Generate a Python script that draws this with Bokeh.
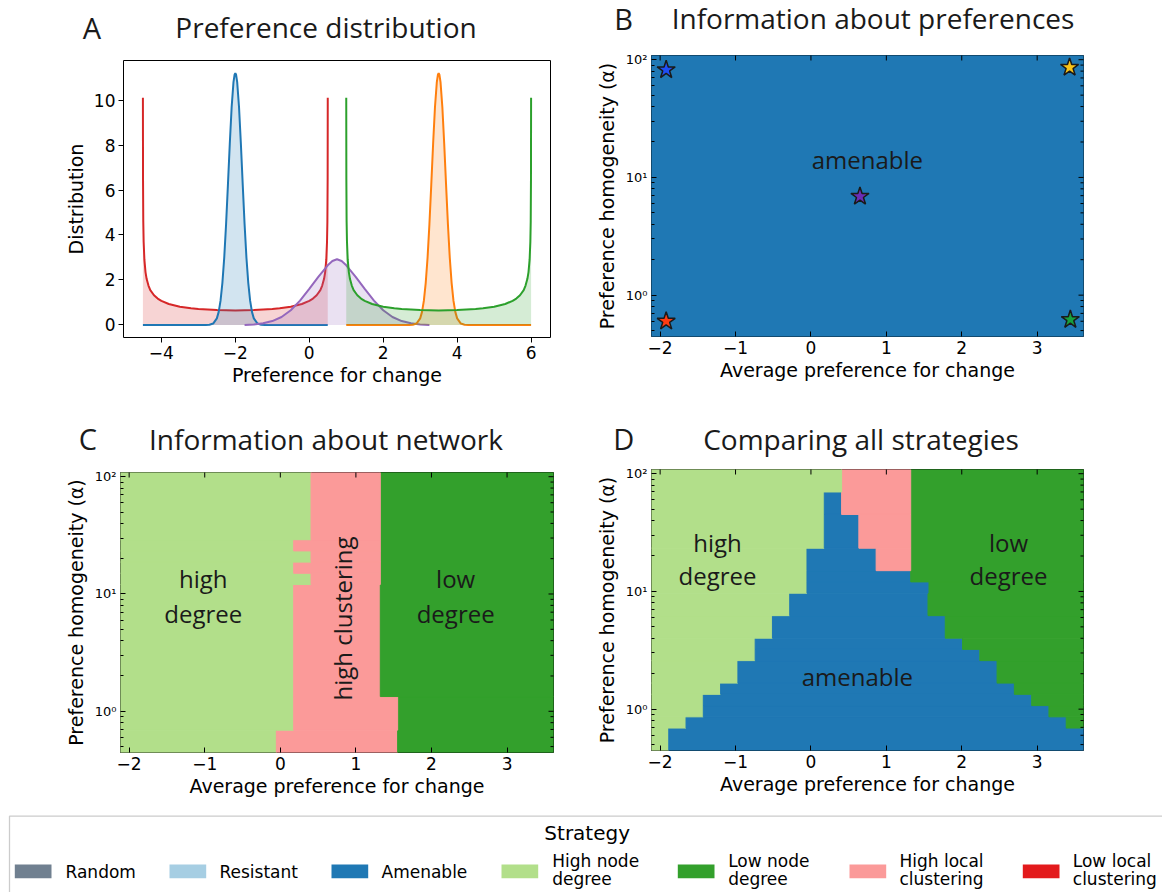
import numpy as np
from bokeh.plotting import figure
from bokeh.layouts import column, row
from bokeh.models import Range1d, FixedTicker, ColumnDataSource, CustomJSTickFormatter
from bokeh.core.properties import value
from bokeh.embed import file_html
from bokeh.resources import INLINE

# ---------------------------------------------------------------- data
# Panel A: preference distributions
red_x = [-4.5, -4.497, -4.49, -4.48, -4.46, -4.43, -4.4, -4.35, -4.3, -4.2, -4.1, -4.0,
         -3.8, -3.5, -3.2, -3.0, -2.5, -2.0, -1.5, -1.0, -0.8, -0.5, -0.2, 0.0, 0.1, 0.2,
         0.3, 0.35, 0.4, 0.43, 0.46, 0.48, 0.49, 0.497, 0.5]
red_y = [10.1, 6.5, 4.6, 3.7, 2.9, 2.35, 2.05, 1.75, 1.55, 1.32, 1.17, 1.07, 0.93, 0.81,
         0.74, 0.71, 0.66, 0.64, 0.66, 0.71, 0.74, 0.81, 0.93, 1.07, 1.17, 1.32, 1.55,
         1.75, 2.05, 2.35, 2.9, 3.7, 4.6, 6.5, 10.1]
blue_x = [-4.5, -2.8, -2.7, -2.6, -2.5, -2.45, -2.4, -2.35, -2.3, -2.25, -2.2, -2.15, -2.1,
          -2.05, -2.02, -2.0, -1.98, -1.95, -1.9, -1.85, -1.8, -1.75, -1.7, -1.65, -1.6,
          -1.55, -1.5, -1.4, -1.3, -1.2, 0.5]
blue_y = [0.0, 0.0, 0.01, 0.06, 0.29, 0.58, 1.08, 1.87, 3.0, 4.49, 6.24, 8.06, 9.68, 10.8,
          11.13, 11.2, 11.13, 10.8, 9.68, 8.06, 6.24, 4.49, 3.0, 1.87, 1.08, 0.58, 0.29,
          0.06, 0.01, 0.0, 0.0]
purple_x = [-1.75, -1.5, -1.25, -1.0, -0.75, -0.5, -0.25, 0.0, 0.25, 0.5, 0.625, 0.75,
            0.875, 1.0, 1.25, 1.5, 1.75, 2.0, 2.25, 2.5, 2.75, 3.0, 3.25]
purple_y = [0.0, 0.02, 0.07, 0.17, 0.35, 0.65, 1.08, 1.6, 2.15, 2.65, 2.84, 2.92, 2.84,
            2.65, 2.15, 1.6, 1.08, 0.65, 0.35, 0.17, 0.07, 0.02, 0.0]
orange_x = [1.0, 2.7, 2.8, 2.9, 3.0, 3.05, 3.1, 3.15, 3.2, 3.25, 3.3, 3.35, 3.4, 3.45,
            3.48, 3.5, 3.52, 3.55, 3.6, 3.65, 3.7, 3.75, 3.8, 3.85, 3.9, 3.95, 4.0, 4.1,
            4.2, 4.3, 6.0]
orange_y = [0.0, 0.0, 0.01, 0.06, 0.29, 0.58, 1.08, 1.87, 3.0, 4.49, 6.24, 8.06, 9.68, 10.8,
            11.13, 11.2, 11.13, 10.8, 9.68, 8.06, 6.24, 4.49, 3.0, 1.87, 1.08, 0.58, 0.29,
            0.06, 0.01, 0.0, 0.0]
green_x = [1.0, 1.003, 1.01, 1.02, 1.04, 1.07, 1.1, 1.15, 1.2, 1.3, 1.4, 1.5, 1.7, 2.0,
           2.3, 2.5, 3.0, 3.5, 4.0, 4.5, 4.7, 5.0, 5.3, 5.5, 5.6, 5.7, 5.8, 5.85, 5.9,
           5.93, 5.96, 5.98, 5.99, 5.997, 6.0]
green_y = [10.1, 6.5, 4.6, 3.7, 2.9, 2.35, 2.05, 1.75, 1.55, 1.32, 1.17, 1.07, 0.93, 0.81,
           0.74, 0.71, 0.66, 0.64, 0.66, 0.71, 0.74, 0.81, 0.93, 1.07, 1.17, 1.32, 1.55,
           1.75, 2.05, 2.35, 2.9, 3.7, 4.6, 6.5, 10.1]

# Panels B-D: strategy grid (columns = average preference, rows = alpha, bottom row first)
pref_centers = [-2.0, -1.771, -1.542, -1.313, -1.083, -0.854, -0.625, -0.396, -0.167,
                0.062, 0.292, 0.521, 0.75, 0.979, 1.208, 1.438, 1.667, 1.896, 2.125,
                2.354, 2.583, 2.812, 3.042, 3.271, 3.5]
alpha_centers = [0.497, 0.619, 0.771, 0.96, 1.197, 1.491, 1.858, 2.314, 2.884, 3.593,
                 4.477, 5.578, 6.95, 8.66, 10.79, 13.45, 16.75, 20.87, 26.0, 32.4,
                 40.36, 50.29, 62.66, 78.07, 97.27]
# codes: A amenable, H high node degree, L low node degree, C high local clustering
grid_B = ["A" * 25 for _ in range(25)]
grid_C = (["H" * 9 + "C" * 7 + "L" * 9] * 2 +
          ["H" * 10 + "C" * 6 + "L" * 9] * 3 +
          ["H" * 10 + "C" * 5 + "L" * 10] * 10 +
          ["H" * 11 + "C" * 4 + "L" * 10] +
          ["H" * 10 + "C" * 5 + "L" * 10] +
          ["H" * 11 + "C" * 4 + "L" * 10] +
          ["H" * 10 + "C" * 5 + "L" * 10] +
          ["H" * 11 + "C" * 4 + "L" * 10] * 6)
grid_D = (["H" * 1 + "A" * 24] * 2 +
          ["H" * 2 + "A" * 22 + "L" * 1] +
          ["H" * 3 + "A" * 20 + "L" * 2] +
          ["H" * 3 + "A" * 19 + "L" * 3] +
          ["H" * 4 + "A" * 17 + "L" * 4] +
          ["H" * 5 + "A" * 15 + "L" * 5] * 2 +
          ["H" * 6 + "A" * 13 + "L" * 6] +
          ["H" * 6 + "A" * 12 + "L" * 7] +
          ["H" * 7 + "A" * 10 + "L" * 8] * 2 +
          ["H" * 8 + "A" * 8 + "L" * 9] * 2 +
          ["H" * 9 + "A" * 7 + "L" * 9] +
          ["H" * 9 + "A" * 6 + "L" * 10] +
          ["H" * 9 + "A" * 4 + "C" * 2 + "L" * 10] * 2 +
          ["H" * 10 + "A" * 2 + "C" * 3 + "L" * 10] * 3 +
          ["H" * 10 + "A" * 1 + "C" * 4 + "L" * 10] * 2 +
          ["H" * 11 + "C" * 4 + "L" * 10] * 2)

star_x = [-1.92, 3.43, 0.65, -1.92, 3.44]
star_y = [82.0, 86.0, 6.9, 0.60, 0.62]
star_colors = ["#1f4ef5", "#f7c31a", "#6a2db5", "#ff3c12", "#17a03c"]

strategy_names = ["Random", "Resistant", "Amenable", "High node\ndegree", "Low node\ndegree",
                  "High local\nclustering", "Low local\nclustering"]
strategy_colors = ["#708090", "#a6cee3", "#1f78b4", "#b2df8a", "#33a02c", "#fb9a99", "#e31a1c"]
code_colors = {"A": "#1f78b4", "H": "#b2df8a", "L": "#33a02c", "C": "#fb9a99"}

panel_letters = ["A", "B", "C", "D"]
panel_titles = ["Preference distribution", "Information about preferences",
                "Information about network", "Comparing all strategies"]

x_ticks_heat = [-2, -1, 0, 1, 2, 3]
log_major = [1, 10, 100]
log_minor = [0.5, 0.6, 0.7, 0.8, 0.9, 2, 3, 4, 5, 6, 7, 8, 9, 20, 30, 40, 50, 60, 70, 80, 90]

# ---------------------------------------------------------------- helpers
W = 1162
TICKF = "DejaVu Sans"
TITLEF = "Open Sans"
TXT = "#1a1a1a"


def minus_fmt():
    return CustomJSTickFormatter(code="return tick < 0 ? '\\u2212' + String(-tick) : String(tick);")


def log_fmt():
    return CustomJSTickFormatter(code="""
const e = Math.round(Math.log10(tick));
const s = {'0': '\\u2070', '1': '\\u00b9', '2': '\\u00b2', '3': '\\u00b3'};
return '10' + (s[String(e)] || String(e));
""")


def style_axis(ax, size="17px"):
    ax.major_label_text_font = TICKF
    ax.major_label_text_font_size = size
    ax.major_label_text_color = "black"
    ax.axis_label_text_font = TICKF
    ax.axis_label_text_font_size = "19px"
    ax.axis_label_text_font_style = "normal"
    ax.axis_label_text_color = "black"
    ax.major_tick_line_color = "black"
    ax.minor_tick_line_color = "black"


def edges_lin(c):
    c = np.asarray(c, float)
    mid = (c[1:] + c[:-1]) / 2
    return np.concatenate([[c[0] - (mid[0] - c[0])], mid, [c[-1] + (c[-1] - mid[-1])]])


xe = edges_lin(pref_centers)
ye = 10 ** edges_lin(np.log10(alpha_centers))


def grid_source(grid):
    # merge equal cells into as few rectangles as possible (row runs, then stacked rows)
    rects, open_runs = [], {}
    nr, nc = len(grid), len(grid[0])
    for r in range(nr):
        runs, c = [], 0
        while c < nc:
            c2 = c
            while c2 + 1 < nc and grid[r][c2 + 1] == grid[r][c]:
                c2 += 1
            runs.append((c, c2 + 1, grid[r][c]))
            c = c2 + 1
        new_open = {}
        for run in runs:
            if run in open_runs:
                rect = open_runs[run]
                rect[3] = r + 1
            else:
                rect = [run[0], run[1], r, r + 1, run[2]]
                rects.append(rect)
            new_open[run] = rect
        open_runs = new_open
    return ColumnDataSource(dict(left=[xe[q[0]] for q in rects], right=[xe[q[1]] for q in rects],
                                 bottom=[ye[q[2]] for q in rects], top=[ye[q[3]] for q in rects],
                                 color=[code_colors[q[4]] for q in rects]))


def pixel_figure(height):
    f = figure(frame_width=W, frame_height=height, min_border=0, x_range=Range1d(0, W),
               y_range=Range1d(height, 0), x_axis_location=None, y_axis_location=None,
               output_backend="svg", toolbar_location=None, outline_line_color=None)
    f.grid.visible = False
    return f


def title_strip(height, letters, letter_pos, titles, title_pos):
    s = pixel_figure(height)
    s.text(x=[p[0] for p in letter_pos], y=[p[1] for p in letter_pos], text=letters,
           text_font=value(TITLEF), text_font_size=value("29px"), text_align="center",
           text_baseline="middle", text_color=TXT)
    s.text(x=[p[0] for p in title_pos], y=[p[1] for p in title_pos], text=titles,
           text_font=value(TITLEF), text_font_size=value("28px"), text_align="center",
           text_baseline="middle", text_color=TXT)
    return s


# ---------------------------------------------------------------- titles
strip1 = title_strip(49, panel_letters[:2], [(91.5, 26.5), (623, 18)],
                     panel_titles[:2], [(325.5, 26), (872.5, 17.5)])
strip2 = title_strip(61, panel_letters[2:], [(87.5, 38), (623.3, 38)],
                     panel_titles[2:], [(325.5, 38), (860.5, 38)])

# ---------------------------------------------------------------- panel A
XA = (-5.025, 6.525)
YA = (-0.56, 11.76)
pA = figure(frame_width=427, frame_height=277, min_border_left=123, min_border_right=40,
            min_border_top=11, min_border_bottom=63, x_range=Range1d(*XA), y_range=Range1d(*YA),
            output_backend="svg", toolbar_location=None)
pA.grid.visible = False
pA.outline_line_color = "black"
pA.outline_line_alpha = 1.0
for xs, ys, col in [(red_x, red_y, "#d62728"), (blue_x, blue_y, "#1f77b4"),
                    (purple_x, purple_y, "#9467bd"), (orange_x, orange_y, "#ff7f0e"),
                    (green_x, green_y, "#2ca02c")]:
    pA.varea(x=xs, y1=0, y2=ys, fill_color=col, fill_alpha=0.2)
    pA.line(xs, ys, line_color=col, line_width=2)
xa = pA.xaxis[0]
ya = pA.yaxis[0]
xa.ticker = FixedTicker(ticks=[-4, -2, 0, 2, 4, 6])
ya.ticker = FixedTicker(ticks=[0, 2, 4, 6, 8, 10])
xa.formatter = minus_fmt()
for ax in (xa, ya):
    style_axis(ax)
    ax.major_tick_out = 5
    ax.major_tick_in = 0
    ax.minor_tick_out = 0
    ax.minor_tick_in = 0
    ax.axis_line_color = None
xa.axis_label = "Preference for change"
ya.axis_label = "Distribution"
xa.major_label_standoff = 3
xa.axis_label_standoff = 2
ya.major_label_standoff = 3
ya.axis_label_standoff = 4

# ---------------------------------------------------------------- heat panels
XR = (float(xe[0]), float(xe[-1]))
YR = (float(ye[0]), float(ye[-1]))


def heat_panel(grid, fw, fh, bl, br, bt, bb):
    p = figure(frame_width=fw, frame_height=fh, min_border_left=bl, min_border_right=br,
               min_border_top=bt, min_border_bottom=bb,
               x_range=Range1d(*XR), y_range=Range1d(*YR),
               y_axis_type="log", output_backend="svg", toolbar_location=None)
    p.grid.visible = False
    p.quad(left="left", right="right", bottom="bottom", top="top", fill_color="color",
           line_color="color", line_width=1.0, source=grid_source(grid))
    p.outline_line_color = "black"
    p.outline_line_alpha = 1.0
    xa = p.xaxis[0]
    ya = p.yaxis[0]
    xa.ticker = FixedTicker(ticks=x_ticks_heat)
    xa.formatter = minus_fmt()
    ya.ticker = FixedTicker(ticks=log_major, minor_ticks=log_minor)
    ya.formatter = log_fmt()
    style_axis(xa)
    style_axis(ya, "13px")
    for ax in (xa, ya):
        ax.major_tick_in = 5
        ax.major_tick_out = 0
        ax.axis_line_color = None
    xa.minor_tick_in = 0
    xa.minor_tick_out = 0
    ya.minor_tick_in = 3
    ya.minor_tick_out = 0
    xa.axis_label = "Average preference for change"
    ya.axis_label = "Preference homogeneity (\u03b1)"
    xa.major_label_standoff = 4
    xa.axis_label_standoff = 2
    ya.major_label_standoff = 4
    ya.axis_label_standoff = 5
    # inward ticks on the top and right edges (half of each dash is clipped by the frame)
    p.scatter(x=x_ticks_heat, y=[YR[1]] * len(x_ticks_heat), marker="dash", angle=np.pi / 2,
              size=10, line_color="black", line_width=1)
    p.scatter(x=[XR[1]] * len(log_major), y=log_major, marker="dash", size=10,
              line_color="black", line_width=1)
    p.scatter(x=[XR[1]] * len(log_minor), y=log_minor, marker="dash", size=6,
              line_color="black", line_width=1)
    return p


# B
pB = heat_panel(grid_B, 432, 281, 61, 79, 6, 64)
pB.scatter(star_x, star_y, marker="star", size=19, fill_color=star_colors,
           line_color="#1a1a1a", line_width=1.5)
pB.text(x=[0.748], y=[14.3], text=["amenable"], text_font=value(TITLEF),
        text_font_size=value("24px"), text_align="center", text_baseline="middle", text_color=TXT)

# C
pC = heat_panel(grid_C, 433, 280, 120, 37, 11, 54)
pC.text(x=[-1.02, -1.02, 2.32, 2.32], y=[13.5, 6.8, 13.5, 6.8],
        text=["high", "degree", "low", "degree"], text_font=value(TITLEF),
        text_font_size=value("24px"), text_align="center", text_baseline="middle", text_color=TXT)
pC.text(x=[0.82], y=[6.18], text=["high clustering"], angle=np.pi / 2, text_font=value(TITLEF),
        text_font_size=value("24px"), text_align="center", text_baseline="middle", text_color=TXT)

# D
pD = heat_panel(grid_D, 432, 281, 61, 79, 8, 56)
pD.text(x=[-1.24, -1.24, 2.62, 2.62, 0.615], y=[26.2, 13.6, 26.2, 13.6, 1.88],
        text=["high", "degree", "low", "degree", "amenable"], text_font=value(TITLEF),
        text_font_size=value("24px"), text_align="center", text_baseline="middle", text_color=TXT)

# ---------------------------------------------------------------- legend strip
pL = pixel_figure(86)
pL.quad(left=[9], right=[1400], top=[9.7], bottom=[300], fill_color="white",
        line_color="#cccccc", line_width=1.3)
patch_left = [14.3, 169, 331, 501, 677.3, 849, 1022.3]
text_left = [65, 219, 381, 551.7, 727.7, 899, 1072.3]
pL.quad(left=patch_left, right=[v + 36.7 for v in patch_left], top=[58] * 7, bottom=[71.7] * 7,
        fill_color=strategy_colors, line_color=None)
tx, ty, tt = [], [], []
for name, xl in zip(strategy_names, text_left):
    parts = name.split("\n")
    if len(parts) == 1:
        tx.append(xl); ty.append(65.4); tt.append(parts[0])
    else:
        tx += [xl, xl]; ty += [54.4, 72.7]; tt += parts
pL.text(x=tx, y=ty, text=tt, text_font=value(TICKF), text_font_size=value("17px"),
        text_align="left", text_baseline="middle", text_color="black")
pL.text(x=[586.7], y=[26.6], text=["Strategy"], text_font=value(TICKF), text_font_size=value("20px"),
        text_align="center", text_baseline="middle", text_color="black")

layout = column(strip1, row(pA, column(pB)), strip2, row(pC, column(pD)), pL)
open("out.html", "w", encoding="utf-8").write(file_html(layout, INLINE))
